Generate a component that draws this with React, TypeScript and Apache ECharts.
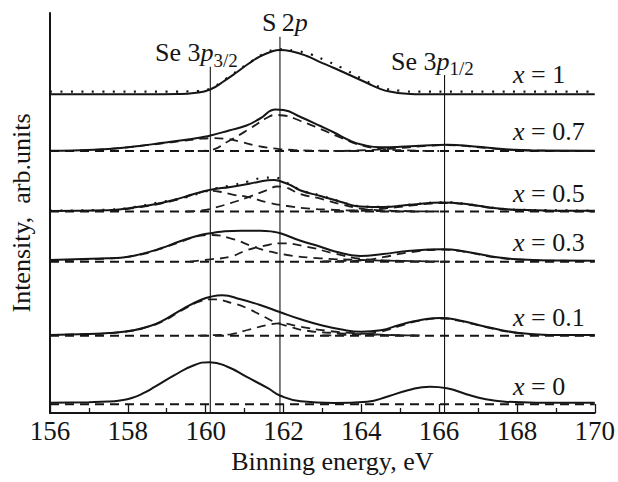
import React, { useEffect, useRef } from "react";
import * as echarts from "echarts";

// ---------- data (energies in eV, heights above each spectrum's baseline) ----------
const sampleLabels = ["1", "0.7", "0.5", "0.3", "0.1", "0"];
const baselines = [318.7, 262, 201.5, 151.3, 77.3, 8.8];
const energyRange = [156, 170];

const envX1 = [[156,0],[158.5,0],[159.3,0.3],[159.7,1.3],[160.1,4.5],[160.5,14],[160.8,22],[161.1,30.5],[161.4,38],[161.7,42.8],[161.9,44.3],[162.2,43],[162.6,38.3],[162.9,33],[163.3,26.3],[163.7,19.3],[164.15,11.3],[164.5,5.2],[164.8,2.3],[165.1,0.8],[165.6,0],[170,0]];
const expX1 = [[156,2.6],[159,2.6],[159.8,3.2],[160.1,5.5],[160.5,15],[161.1,31],[161.6,42.5],[161.9,45],[162.3,43.5],[162.7,40],[163.1,33.5],[163.5,26.5],[164,16],[164.5,7],[165,3.5],[165.5,2.6],[170,2.6]];

const envX07 = [[156,0.2],[156.6,0.5],[157.5,2],[158.3,5],[158.85,8],[159.4,10.8],[159.9,13.8],[160.13,15.5],[160.6,20.5],[161.05,25.5],[161.4,32.5],[161.8,41.5],[162.0,41],[162.44,34],[162.95,25],[163.3,18.5],[163.7,10.5],[164.0,6.5],[164.5,3.8],[165.0,4.2],[165.5,5.2],[166.2,6.3],[166.9,4.5],[167.7,1.7],[168.5,0.6],[170,0.3]];
const se32X07 = [[156,0],[156.6,0.4],[157.5,2],[158.3,5],[158.85,7.5],[159.4,10],[159.9,12.3],[160.2,12.8],[160.56,12],[160.9,9.2],[161.23,6],[161.74,2.7],[162.26,1],[163,0.3],[164,0]];
const s2pX07 = [[159.8,0],[160.13,1],[160.56,9.3],[161.15,22.7],[161.58,33.3],[161.8,36],[162.0,35.5],[162.44,30],[162.95,22],[163.46,13.5],[163.97,6],[164.5,2.3],[165.2,0.6],[166,0]];
const se12X07 = [[163.5,0],[164.3,1.2],[165,3],[165.6,5],[166.2,5.8],[166.9,4.2],[167.7,1.5],[168.5,0.4],[170,0]];

const envX05 = [[156,0.5],[157.5,1.2],[158.33,5],[158.85,8.5],[159.2,11.7],[159.7,17.5],[160.13,21.8],[160.64,24.6],[161.15,28],[161.6,31.3],[161.75,31.6],[161.92,30.3],[162.2,26],[162.44,21],[162.95,15.5],[163.46,9.8],[163.97,5],[164.56,4.4],[165.26,6.7],[166.1,9],[166.7,7.4],[167.4,3.4],[168,1.7],[169,0.8],[170,0.7]];
const expX05 = [[156,0.8],[157.5,1.8],[158.33,5.5],[158.85,9.5],[159.36,13],[159.87,18.5],[160.3,23.5],[160.7,26.5],[161.1,30],[161.45,33.5],[161.75,34],[162.0,30.5],[162.44,21.5],[162.95,16],[163.46,10],[163.97,5.2],[164.56,4.6],[165.26,6.9],[166.1,9.2],[166.7,7.6],[167.4,3.6],[168,1.9],[170,0.9]];
const se32X05 = [[156,0.3],[157.5,1],[158.33,4.5],[158.85,8],[159.2,11],[159.7,17],[160.13,20.7],[160.4,19.5],[160.72,16.7],[161.1,14.4],[161.6,9],[162.1,5.5],[162.6,3.2],[163.2,1.8],[163.8,1],[164.5,0.3],[165.5,0]];
const s2pX05 = [[159.5,0],[159.9,1],[160.13,2.7],[160.64,8.4],[161.1,14.4],[161.6,21.7],[161.84,25],[162.0,24.5],[162.44,17.5],[162.95,12.8],[163.46,7.5],[163.97,3],[164.5,1.2],[165.2,0.4],[166,0]];
const se12X05 = [[163.3,0],[164,1.2],[164.6,3],[165.26,5.8],[165.8,8],[166.1,8.5],[166.7,7],[167.4,3.2],[168,1.5],[169,0.4],[170,0.2]];

const envX03 = [[156,1.7],[157.5,3.4],[157.82,4],[158.33,7.6],[158.85,13.4],[159.36,20.7],[159.87,26.7],[160.13,28.4],[160.4,30],[160.9,31],[161.4,31],[161.74,30],[161.92,28.4],[162.44,21],[162.95,15],[163.3,10.5],[163.97,5.8],[164.56,7.7],[165.26,11],[166.1,12.4],[166.7,10],[167.4,5],[168,2.4],[169,1.2],[170,1]];
const se32X03 = [[156,1.5],[157.5,3.2],[158.33,7.2],[158.85,13],[159.36,20],[159.87,26],[160.13,26.7],[160.64,23.4],[161.23,15],[161.5,11.7],[162.1,6.7],[162.95,3.4],[164,1.7],[165,0.8],[166,0.3]];
const s2pX03 = [[159.6,0],[160.13,2.4],[160.64,5],[161.07,11.7],[161.6,16.7],[161.92,18.4],[162.6,15],[163.28,8.5],[163.97,3],[164.6,1.4],[165.5,0.4],[166.5,0]];
const se12X03 = [[163,0.4],[163.97,1.2],[164.56,4.5],[165.26,9.5],[166.1,12],[166.7,9.6],[167.4,4.6],[168,2.2],[169,1],[170,0.8]];

const envX01 = [[156,0.8],[157,1.8],[157.5,2.6],[158.15,5.5],[158.5,9],[158.85,14],[159.44,27.4],[159.87,35.7],[160.13,39],[160.43,40.4],[160.9,36.4],[161.4,30.7],[161.92,23.4],[162.44,16.4],[162.95,10.7],[163.46,6.4],[164,4],[164.5,5.5],[165,11],[165.5,15.5],[166.05,17.7],[166.5,15.5],[167.2,9],[168,3],[168.85,0.8],[170,0.6]];
const se32X01 = [[156,0.7],[157,1.6],[157.5,2.4],[158.15,5.2],[158.5,8.7],[158.85,13.5],[159.44,26.5],[159.87,34.5],[160.2,36.4],[160.7,32.4],[161.07,27.4],[161.5,19],[161.76,14],[162.1,9.7],[162.6,5],[163.46,2.4],[164.5,0.8],[165.5,0.2]];
const s2pX01 = [[159.8,0],[160.2,0.5],[160.64,1.4],[161.07,5.7],[161.6,10.7],[161.9,12.4],[162.44,9],[163.1,5],[163.8,2.6],[164.5,1],[165.5,0.2]];
const se12X01 = [[163,0.3],[164,1.5],[164.5,4],[165,9.8],[165.5,15],[166.05,17.2],[166.5,15],[167.2,8.6],[168,2.8],[168.85,0.6],[170,0.4]];

const envX0 = [[156,1.5],[157,2],[157.5,2.6],[157.8,3.8],[158.1,6.2],[158.4,11],[158.7,17.5],[159.2,29],[159.7,39],[160.1,42],[160.56,37.5],[161.07,27],[161.6,16],[161.92,8.5],[162.44,3],[163.3,1.3],[164.15,2.5],[164.7,8],[165.2,14],[165.77,17.5],[166.2,16],[166.7,10],[167.2,5],[167.7,2.5],[168.5,1.5],[170,1.5]];

const envelopes = [envX1, envX07, envX05, envX03, envX01, envX0];
const experimental = [
  { data: expX1, spectrum: 0 },
  { data: expX05, spectrum: 2 },
];
const components = [
  { data: se32X07, spectrum: 1 }, { data: s2pX07, spectrum: 1 }, { data: se12X07, spectrum: 1 },
  { data: se32X05, spectrum: 2 }, { data: s2pX05, spectrum: 2 }, { data: se12X05, spectrum: 2 },
  { data: se32X03, spectrum: 3 }, { data: s2pX03, spectrum: 3 }, { data: se12X03, spectrum: 3 },
  { data: se32X01, spectrum: 4 }, { data: s2pX01, spectrum: 4 }, { data: se12X01, spectrum: 4 },
];
const dashedBaselineSpectra = [1, 2, 3, 4, 5];

const peakEnergies = [160.12, 161.91, 166.14];
const peakLineTops = [346.3, 376.3, 338];

// ---------- layout / style ----------
const FONT = "Liberation Serif, Times New Roman, serif";
const INK = "#151515";
const sampleLabelX = 513;
const sampleLabelBase = [83.3, 140, 202.7, 251.7, 326, 395];
const peakLabelLayout = [
  { x: 155, base: 61.7 },
  { x: 262, base: 31.7 },
  { x: 391, base: 70 },
];

type Seg = { t: string; it?: boolean; fs?: number; dy?: number };

export default function App() {
  const ref = useRef<HTMLDivElement>(null);
  useEffect(() => {
    const chart = echarts.init(ref.current!, undefined, { renderer: "svg" });
    const ctx = document.createElement("canvas").getContext("2d")!;
    const fontOf = (fs: number, it?: boolean) => `${it ? "italic " : ""}${fs}px ${FONT}`;
    const measure = (t: string, fs: number, it?: boolean) => {
      ctx.font = fontOf(fs, it);
      return ctx.measureText(t).width;
    };
    const layoutLabel = (segs: Seg[], x0: number, base: number) => {
      let x = x0;
      const out: any[] = [];
      for (const s of segs) {
        const fs = s.fs ?? 26;
        out.push({
          type: "text",
          x,
          y: base + (s.dy ?? 0) - 0.34 * fs,
          silent: true,
          style: {
            text: s.t,
            fontFamily: FONT,
            fontSize: fs,
            fontStyle: s.it ? "italic" : "normal",
            fill: INK,
            verticalAlign: "middle",
            align: "left",
          },
        });
        x += measure(s.t, fs, s.it);
      }
      return out;
    };

    const peakSegs: Seg[][] = [
      [{ t: "Se 3" }, { t: "p", it: true }, { t: "3/2", fs: 19, dy: 5 }],
      [{ t: "S\u20092" }, { t: "p", it: true }],
      [{ t: "Se 3" }, { t: "p", it: true }, { t: "1/2", fs: 19, dy: 5 }],
    ];
    const graphics: any[] = [];
    peakSegs.forEach((segs, i) => graphics.push(...layoutLabel(segs, peakLabelLayout[i].x, peakLabelLayout[i].base)));
    sampleLabels.forEach((v, i) =>
      graphics.push(...layoutLabel([{ t: "x", it: true }, { t: " = " + v }], sampleLabelX, sampleLabelBase[i]))
    );

    const shift = (d: number[][], b: number) => d.map(([e, h]) => [e, b + h]);
    const lineBase = { type: "line", symbol: "none", silent: true, smooth: 0.5, z: 3 };
    const series: any[] = [];

    peakEnergies.forEach((e, i) =>
      series.push({ ...lineBase, smooth: false, data: [[e, 0], [e, peakLineTops[i]]], lineStyle: { color: INK, width: 1.1 }, z: 2 })
    );
    dashedBaselineSpectra.forEach((s) =>
      series.push({
        ...lineBase,
        smooth: false,
        data: energyRange.map((e) => [e, baselines[s]]),
        lineStyle: { color: INK, width: 2, type: [9, 6] },
      })
    );
    components.forEach((c) =>
      series.push({ ...lineBase, data: shift(c.data, baselines[c.spectrum]), lineStyle: { color: "#1e1e1e", width: 1.8, type: [9, 6] } })
    );
    experimental.forEach((c) =>
      series.push({ ...lineBase, data: shift(c.data, baselines[c.spectrum]), lineStyle: { color: INK, width: 2.2, type: [2, 8.5] } })
    );
    envelopes.forEach((d, s) =>
      series.push({ ...lineBase, data: shift(d, baselines[s]), lineStyle: { color: INK, width: 2 }, z: 4 })
    );

    chart.setOption({
      animation: false,
      backgroundColor: "#fff",
      textStyle: { fontFamily: FONT },
      grid: { left: 48, right: 22, top: 13, bottom: 69 },
      xAxis: {
        type: "value",
        min: 156,
        max: 170,
        interval: 2,
        axisLine: { lineStyle: { color: INK, width: 2 } },
        axisTick: { inside: true, length: 9, lineStyle: { color: INK, width: 1.3 } },
        minorTick: { show: true, splitNumber: 2, length: 5, lineStyle: { color: INK, width: 1.3 } },
        axisLabel: { margin: 4, fontFamily: FONT, fontSize: 27, color: INK },
        splitLine: { show: false },
        name: "Binning energy, eV",
        nameLocation: "middle",
        nameGap: 31,
        nameTextStyle: { fontFamily: FONT, fontSize: 26, color: INK, padding: [0, 0, 0, 20] },
      },
      yAxis: {
        type: "value",
        min: 0,
        max: 400,
        axisLine: { show: true, lineStyle: { color: INK, width: 2 } },
        axisTick: { show: false },
        axisLabel: { show: false },
        splitLine: { show: false },
        name: "Intensity,  arb.units",
        nameLocation: "middle",
        nameGap: 16,
        nameTextStyle: { fontFamily: FONT, fontSize: 26, color: INK },
      },
      series,
      graphic: graphics,
    });
    return () => chart.dispose();
  }, []);
  return <div ref={ref} style={{ position: "fixed", left: 0, top: 0, width: 618, height: 482, background: "#fff" }} />;
}
